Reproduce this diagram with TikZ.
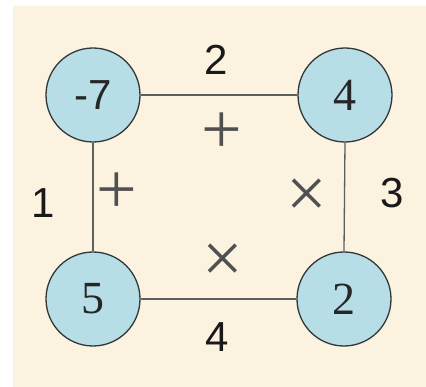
\documentclass[tikz,border=0pt]{standalone}
\usepackage{fontspec}
\setmainfont{Liberation Serif}
\newfontfamily\arialf{Liberation Sans}
\definecolor{cream}{RGB}{251,242,224}
\definecolor{bubble}{RGB}{183,221,230}
\definecolor{rim}{RGB}{50,55,55}
\definecolor{opcol}{RGB}{80,80,80}
\begin{document}
\begin{tikzpicture}[x=1pt,y=-1pt,
  bub/.style={circle,draw=rim,line width=1.3pt,fill=bubble,minimum size=94pt,inner sep=0pt,font=\fontsize{46}{46}\selectfont,text=black!85},
  edge/.style={draw=rim!80,line width=1.3pt},
  lab/.style={font=\arialf\fontsize{42}{42}\selectfont,text=black!90},
  op/.style={font=\fontsize{72}{72}\selectfont,text=opcol}]
\useasboundingbox (0,0) rectangle (426,387);
\fill[white] (0,0) rectangle (426,387);
\fill[cream] (13,6) rectangle (426,387);
\node[bub,font=\arialf\fontsize{42}{42}\selectfont] (a) at (93,95) {-7};
\node[bub] (b) at (345,95) {4};
\node[bub] (c) at (93,299) {5};
\node[bub] (d) at (344,299) {2};
\draw[edge] (a.east) -- (b.west);
\draw[edge] (a.south) -- (c.north);
\draw[edge] (b.south) -- (d.north);
\draw[edge] (c.east) -- (d.west);
\node[lab] (l2) at (216,60) {2};
\node[lab] (l1) at (43,203) {1};
\node[lab] (l3) at (392,193) {3};
\node[lab] (l4) at (217,337) {4};
\node[op] (p1) at (222,133) {+};
\node[op] (p2) at (117,193) {+};
\node[op] (x1) at (307,198) {×};
\node[op] (x2) at (223,263) {×};
\end{tikzpicture}
\end{document}
